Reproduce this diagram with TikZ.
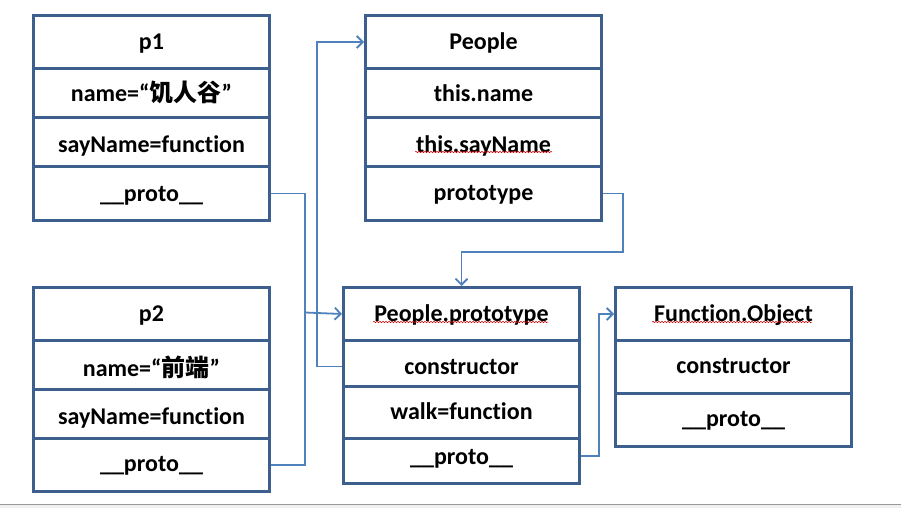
\documentclass[tikz,border=0pt]{standalone}
\usepackage{fontspec}
\setmainfont{Carlito}[Ligatures=NoCommon]
\newfontfamily\cjk{Noto Sans CJK SC}
\usetikzlibrary{arrows.meta,decorations.pathmorphing}
\definecolor{boxblue}{HTML}{3C5F8E}
\definecolor{linkblue}{HTML}{4F81BD}
\begin{document}
\begin{tikzpicture}[x=1pt,y=-1pt,
  cell/.style 2 args={draw=boxblue, line width=3pt, anchor=north west, inner sep=0pt,
    minimum width=236pt, minimum height=#1pt, text height=#2pt, text depth=0pt,
    font=\fontsize{24}{28}\selectfont\bfseries, text=black},
  link/.style={draw=linkblue, line width=1.8pt},
  arr/.style={-{Straight Barb[length=6pt,width=12pt,line width=1.8pt]}},
  spell/.style={draw=red!85!black, line width=0.5pt, decorate,
    decoration={snake, amplitude=0.7pt, segment length=3pt}}]
\useasboundingbox (0,0) rectangle (901,508);
\fill[white] (0,0) rectangle (901,508);
\fill[black!6] (0,504) rectangle (901,508);
\draw[black!40, line width=1pt] (0,504) -- (901,504);

% p1
\node[cell={53}{15}] (p1a) at (32,14) {p1};
\node[cell={49}{17}] (p1b) at (32,67) {name=“{\cjk 饥人谷}”};
\node[cell={49}{20}] (p1c) at (32,116) {sayName=function};
\node[cell={54}{16}] (p1d) at (32,165) {\_\_proto\_\_};

% People
\node[cell={53}{15}] (pa) at (364,14) {People};
\node[cell={49}{17}] (pb) at (364,67) {this.name};
\node[cell={49}{20}] (pc) at (364,116) {this.sayName};
\node[cell={54}{14}] (pd) at (364,165) {prototype};

% p2
\node[cell={53}{15}] (p2a) at (32,286) {p2};
\node[cell={49}{22}] (p2b) at (32,339) {name=“{\cjk 前端}”};
\node[cell={49}{20}] (p2c) at (32,388) {sayName=function};
\node[cell={53}{13}] (p2d) at (32,437) {\_\_proto\_\_};

% People.prototype
\node[cell={53}{15}] (ppa) at (342,286) {People.prototype};
\node[cell={46}{22}] (ppb) at (342,339) {constructor};
\node[cell={52}{14}] (ppc) at (342,385) {walk=function};
\node[cell={45}{7}] (ppd) at (342,437) {\_\_proto\_\_};

% Function.Object
\node[cell={53}{15}] (foa) at (614,286) {Function.Object};
\node[cell={53}{13}] (fob) at (614,339) {constructor};
\node[cell={53}{13}] (foc) at (614,392) {\_\_proto\_\_};

% spelling marks
\draw[spell] (415,152) -- (552,152);
\draw[spell] (373,322) -- (548,322);
\draw[spell] (652,322) -- (812,322);

% connectors
\coordinate (j1) at (305,312.5);
\coordinate (c1) at (623,252);
\draw[link] (p1d.east) -| (j1);
\draw[link] (p2d.east) -| (j1);
\draw[link,arr] (j1) -- (ppa.west);
\draw[link,arr] ([yshift=-3pt]ppb.west) -- ++(-25,0) |- (pa.west);
\draw[link,arr] (pd.east) -| (c1) -| (ppa.north);
\draw[link,arr] ([yshift=5pt]ppd.east) -- ++(18,0) |- (foa.west);
\end{tikzpicture}
\end{document}
